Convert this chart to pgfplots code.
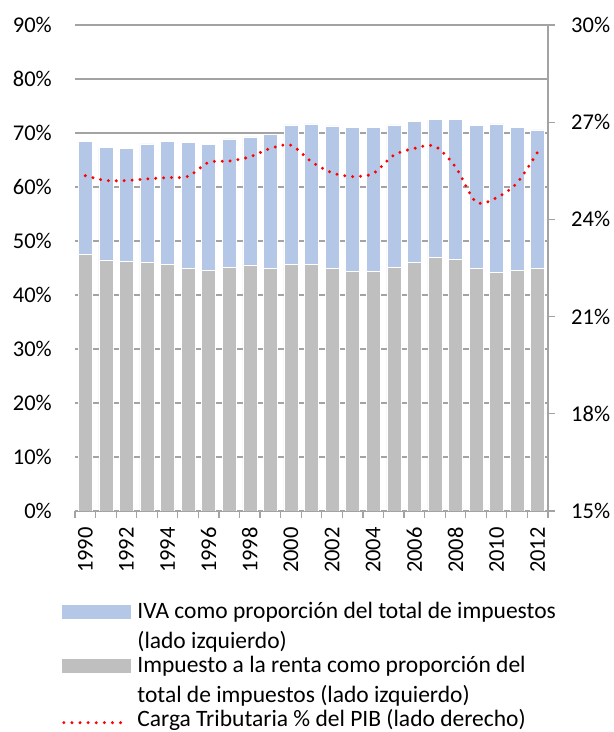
\documentclass[border=0pt]{standalone}
\usepackage{fontspec}
\setmainfont{Carlito}
\usepackage{pgfplots}
\pgfplotsset{compat=1.18}
\definecolor{ivablue}{HTML}{B4C7E7}
\definecolor{rentagray}{HTML}{BFBFBF}
\definecolor{gridgray}{HTML}{A3A3A3}
\begin{document}
\begin{tikzpicture}[font=\fontsize{22.5}{26}\selectfont]
\useasboundingbox (0,0) rectangle (614pt,732pt);
\begin{axis}[
  scale only axis, width=473pt, height=486pt,
  at={(75pt,221pt)}, anchor=south west,
  xmin=-0.5, xmax=22.5, ymin=0, ymax=90,
  ybar stacked, bar width=14pt,
  axis x line*=bottom, axis y line*=left,
  y axis line style={draw=none},
  x axis line style={gridgray, line width=1.2pt},
  ymajorgrids, major grid style={gridgray, line width=1.2pt},
  ytick={0,10,...,90},
  yticklabels={0\%,10\%,20\%,30\%,40\%,50\%,60\%,70\%,80\%,90\%},
  ytick style={draw=none},
  xtick={0,2,...,22},
  xticklabels={1990,1992,1994,1996,1998,2000,2002,2004,2006,2008,2010,2012},
  minor xtick={-0.5,0.5,...,22.5},
  tick align=outside, major tick length=0pt, minor tick length=7pt,
  minor x tick style={gridgray, line width=1.2pt},
  tick label style={font=\fontsize{22.5}{26}\selectfont},
  yticklabel style={inner sep=0pt, xshift=-23pt},
  xticklabel style={rotate=90, anchor=east, inner sep=0pt, xshift=-16pt},
]
\addplot[fill=rentagray, draw=white, line width=0.5pt] coordinates {
(0,47.5) (1,46.5) (2,46.2) (3,46.0) (4,45.7) (5,44.9) (6,44.6) (7,45.1)
(8,45.6) (9,44.9) (10,45.7) (11,45.7) (12,44.9) (13,44.4) (14,44.4) (15,45.1)
(16,46.0) (17,46.9) (18,46.6) (19,44.9) (20,44.2) (21,44.6) (22,45.0)};
\addplot[fill=ivablue, draw=white, line width=0.5pt] coordinates {
(0,20.9) (1,20.8) (2,20.9) (3,22.0) (4,22.8) (5,23.4) (6,23.3) (7,23.8)
(8,23.7) (9,24.8) (10,25.8) (11,26.0) (12,26.4) (13,26.6) (14,26.6) (15,26.4)
(16,26.1) (17,25.6) (18,25.9) (19,26.5) (20,27.5) (21,26.4) (22,25.6)};
\end{axis}
\begin{axis}[
  scale only axis, width=473pt, height=486pt,
  at={(75pt,221pt)}, anchor=south west,
  xmin=-0.5, xmax=22.5, ymin=15, ymax=30,
  axis y line*=right, axis x line=none,
  y axis line style={gridgray, line width=1.2pt},
  ytick={15,18,...,30},
  yticklabels={15\%,18\%,21\%,24\%,27\%,30\%},
  tick align=outside, major tick length=7pt,
  ytick style={gridgray, line width=1.2pt},
  tick label style={font=\fontsize{22.5}{26}\selectfont},
  yticklabel style={inner sep=0pt, xshift=16pt},
  legend style={at={(-0.0275,-0.1907)}, anchor=north west, draw=none, fill=none,
    inner sep=0pt, outer sep=0pt, row sep=0pt, column sep=7pt,
    nodes={inner sep=0pt, text height=15pt, text depth=},
    cells={anchor=base west},
    font=\fontsize{23.5}{27}\selectfont},
]
\addlegendimage{legend image code/.code={\fill[ivablue] (0pt,0pt) rectangle (68pt,13.3pt);}}
\addlegendentry{IVA como proporción del total de impuestos\rule[-15pt]{0pt}{15pt}}
\addlegendimage{empty legend}
\addlegendentry{(lado izquierdo)\rule[-9pt]{0pt}{9pt}}
\addlegendimage{legend image code/.code={\fill[rentagray] (0pt,0pt) rectangle (68pt,13.3pt);}}
\addlegendentry{Impuesto a la renta como proporción del\rule[-15pt]{0pt}{15pt}}
\addlegendimage{empty legend}
\addlegendentry{total de impuestos (lado izquierdo)\rule[-9pt]{0pt}{9pt}}
\addplot[red, line width=3.3pt, line cap=round, dash pattern=on 0pt off 7.9pt, smooth, tension=0.5,
  legend image code/.code={\draw[red, line width=3.3pt, line cap=round, dash pattern=on 0pt off 8.1pt] (1.65pt,4pt) -- (66pt,4pt);}]
  coordinates {
(0,25.35) (1,25.20) (2,25.20) (3,25.25) (4,25.29) (5,25.33) (6,25.76) (7,25.80)
(8,25.93) (9,26.19) (10,26.29) (11,25.78) (12,25.44) (13,25.32) (14,25.42) (15,25.98)
(16,26.19) (17,26.26) (18,25.62) (19,24.54) (20,24.67) (21,25.13) (22,26.08)};
\addlegendentry{Carga Tributaria \% del PIB (lado derecho)}
\end{axis}
\end{tikzpicture}
\end{document}
